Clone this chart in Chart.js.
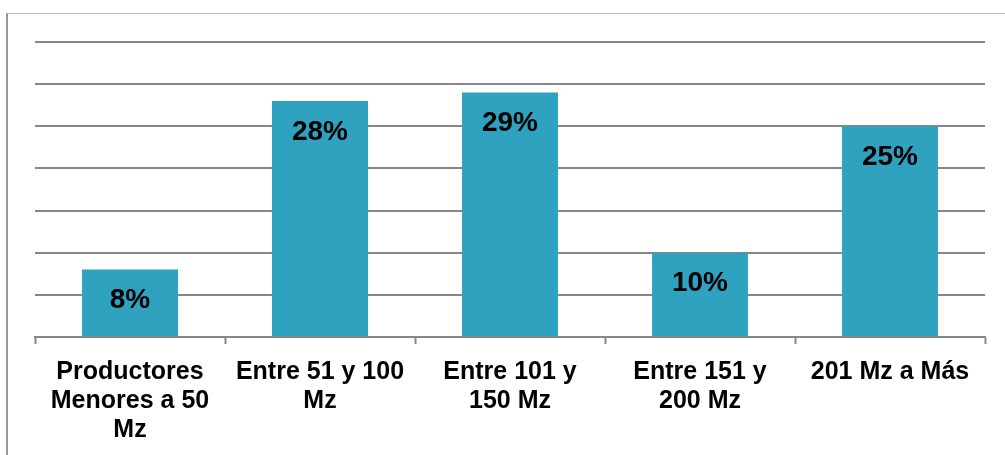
<!DOCTYPE html>
<html>
<head>
<meta charset="utf-8">
<script src="https://cdn.jsdelivr.net/npm/chart.js@4/dist/chart.umd.min.js"></script>
<style>
  html, body { margin: 0; padding: 0; background: #ffffff; }
  #wrap { position: relative; width: 1005px; height: 455px; overflow: hidden; }
  #frame {
    position: absolute; left: 6px; top: 13px; right: 0; bottom: 0;
    border-top: 1px solid #bdbdbd; border-left: 2px solid #969696;
  }
  canvas { position: absolute; left: 0; top: 0; }
</style>
</head>
<body>
<div id="wrap">
  <div id="frame"></div>
  <canvas id="chart" width="1005" height="455"></canvas>
</div>
<script>
// Farm size groups and the share of producers in each
const categories = [
  ["Productores", "Menores a 50", "Mz"],
  ["Entre 51 y 100", "Mz"],
  ["Entre 101 y", "150 Mz"],
  ["Entre 151 y", "200 Mz"],
  ["201 Mz a Más"]
];
const shares = [8, 28, 29, 10, 25];
const valueLabels = ["8%", "28%", "29%", "10%", "25%"];

const FONT = '"Liberation Sans", Arial, sans-serif';
const GRID = '#878787';

// Writes each percentage inside its bar, just under the top edge
const barValueLabels = {
  id: 'barValueLabels',
  afterDatasetsDraw(chart) {
    const ctx = chart.ctx;
    const meta = chart.getDatasetMeta(0);
    ctx.save();
    ctx.font = 'bold 28px ' + FONT;
    ctx.fillStyle = '#000000';
    ctx.textAlign = 'center';
    ctx.textBaseline = 'middle';
    meta.data.forEach((bar, i) => {
      ctx.fillText(valueLabels[i], bar.x, bar.y + 31);
    });
    ctx.restore();
  }
};

new Chart(document.getElementById('chart'), {
  type: 'bar',
  data: {
    labels: categories,
    datasets: [{
      data: shares,
      backgroundColor: '#2EA2BF',
      borderWidth: 0,
      barPercentage: 0.505,
      categoryPercentage: 1.0
    }]
  },
  options: {
    responsive: false,
    animation: false,
    layout: { padding: { left: 35, right: 20, top: 42, bottom: -4 } },
    plugins: {
      legend: { display: false },
      tooltip: { enabled: false }
    },
    scales: {
      x: {
        grid: {
          drawOnChartArea: false,
          drawTicks: true,
          tickLength: 7,
          tickWidth: 2,
          tickColor: GRID
        },
        border: { display: true, color: GRID, width: 2 },
        ticks: {
          color: '#000000',
          padding: 14,
          maxRotation: 0,
          autoSkip: false,
          font: { family: FONT, size: 25, weight: 'bold', lineHeight: 1.16 }
        }
      },
      y: {
        min: 0,
        max: 35,
        ticks: { display: false, stepSize: 5 },
        grid: { color: GRID, lineWidth: 2, drawTicks: false },
        border: { display: false }
      }
    }
  },
  plugins: [barValueLabels]
});
</script>
</body>
</html>
